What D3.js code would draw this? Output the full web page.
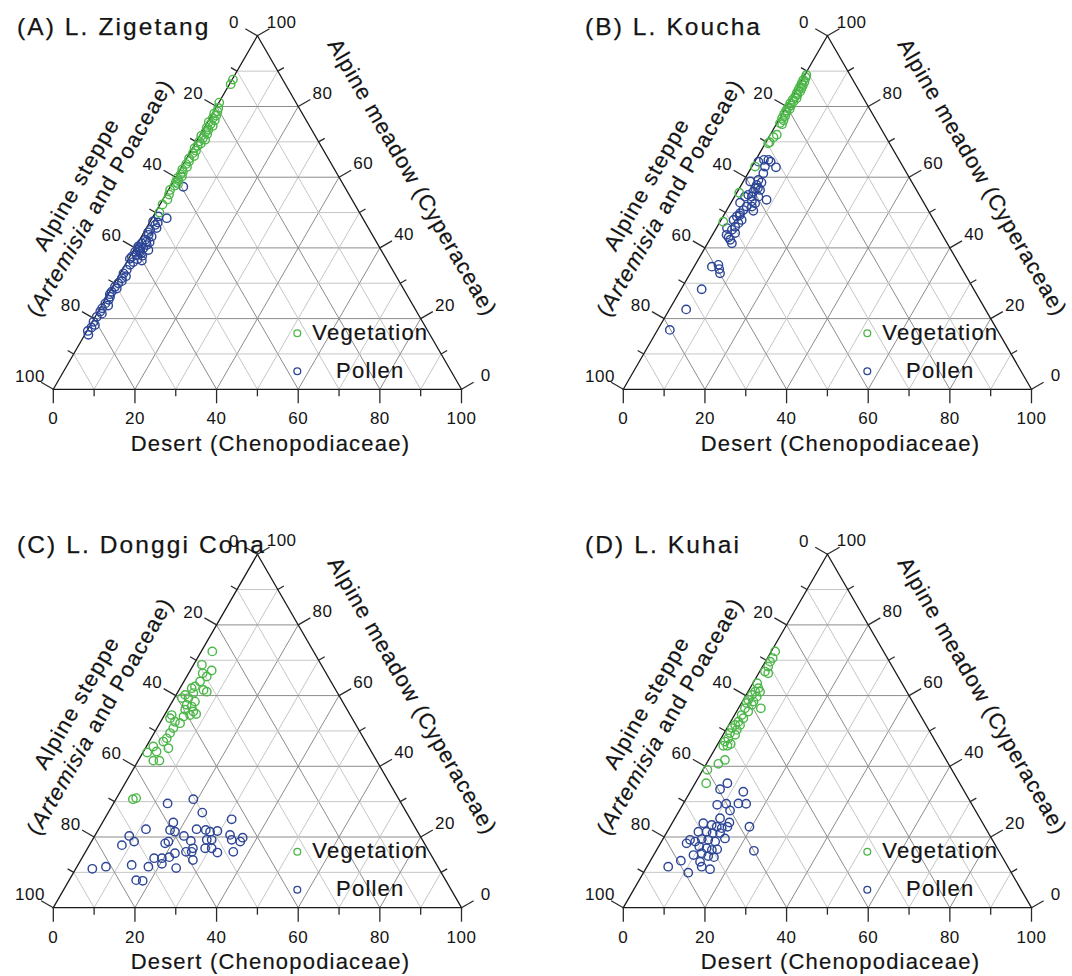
<!DOCTYPE html>
<html>
<head>
<meta charset="utf-8">
<script src="https://cdn.jsdelivr.net/npm/d3@7"></script>
<style>
  html, body { margin: 0; padding: 0; background: #fff; }
  svg { display: block; font-family: "Liberation Sans", Arial, Helvetica, sans-serif; }
</style>
</head>
<body>
<svg id="chart" width="1072" height="976"></svg>
<script>
// Each sample is [desert, meadow] in percent; alpine steppe = 100 - desert - meadow.

const zigetangVegetation = [
  [0.2,87.6],[0.3,86.3],[0.1,81.1],[0.6,79.6],[0.9,78.6],[0.4,78.0],[1.2,77.4],[0.7,76.7],
  [1.5,76.1],[0.3,75.6],[1.0,75.0],[1.8,74.5],[0.6,74.0],[1.3,73.4],[0.9,72.8],[1.6,72.2],
  [0.4,71.7],[1.1,71.1],[1.9,70.6],[0.7,70.1],[1.4,69.5],[0.9,68.9],[0.5,68.2],[1.2,67.5],
  [0.8,66.8],[1.5,66.0],[0.6,65.3],[1.0,64.5],[0.7,63.7],[1.3,62.9],[0.5,62.2],[1.0,61.5],
  [0.8,60.8],[1.4,60.2],[0.5,59.7],[1.1,59.1],[0.7,58.6],[1.5,58.1],[0.9,57.6],[0.4,56.4],
  [0.8,55.1],[1.1,53.7],[0.6,52.3],[1.0,50.0]
];
const zigetangPollen = [
  [3.2,57.3],[3.6,48.4],[1.3,48.9],[1.7,46.5],[2.5,45.6],[1.2,45.1],[1.5,43.7],[2.5,43.2],
  [1.4,42.3],[1.0,41.3],[2.5,40.8],[0.6,40.4],[2.1,39.9],[1.8,38.9],[0.6,38.9],[3.6,39.4],
  [1.4,38.0],[0.5,37.5],[3.5,36.4],[1.6,36.0],[1.2,35.2],[1.1,33.8],[0.8,32.8],[1.1,31.4],
  [0.9,30.0],[0.6,29.0],[1.3,28.5],[0.5,27.6],[0.8,26.2],[0.9,25.3],[0.6,24.3],[0.5,22.9],
  [0.5,22.0],[0.4,20.5],[0.3,19.1],[1.1,18.2],[0.9,15.4],[1.9,41.8],[0.9,40.0],[2.8,41.6],
  [1.6,39.3],[2.3,38.4],[1.1,39.6],[2.9,37.8],[0.3,36.9],[2.2,36.8],[0.7,47.5],[1.0,44.4],
  [2.0,47.2],[1.8,32.0],[1.5,30.6],[0.4,26.9],[1.6,23.7],[1.2,21.4],[0.6,17.5],[0.2,16.5]
];

const kouchaVegetation = [
  [0.4,88.9],[0.6,88.2],[0.35,87.5],[0.9,87.0],[0.4,86.6],[1.0,86.0],[0.5,85.6],[1.1,85.1],
  [0.55,84.7],[1.2,84.2],[0.6,83.8],[1.0,83.3],[0.7,82.8],[1.3,82.3],[0.55,81.9],[1.0,81.4],
  [0.45,80.9],[0.9,80.3],[0.5,79.8],[1.1,79.3],[0.45,78.9],[0.8,78.4],[0.45,77.9],[1.0,77.3],
  [0.55,76.7],[1.2,76.1],[0.75,75.3],[1.4,75.0],[1.6,72.0],[1.15,71.3],[0.7,69.6],[0.9,69.9],
  [0.8,63.0],[0.6,55.6],[0.8,47.4]
];
const kouchaPollen = [
  [0.9,64.4],[2.0,64.9],[3.1,64.9],[3.9,64.4],[6.0,62.8],[3.2,63.0],[3.75,61.1],[3.5,59.2],
  [3.8,57.8],[3.85,56.9],[3.9,55.9],[3.1,55.0],[2.55,54.5],[4.25,54.5],[5.85,54.5],[8.3,53.6],
  [5.3,56.4],[6.0,52.6],[5.65,51.7],[4.35,51.7],[4.05,50.7],[3.7,49.8],[3.35,48.9],[5.05,47.9],
  [3.05,47.9],[4.7,47.0],[4.4,46.0],[4.05,45.1],[5.3,44.2],[3.45,43.7],[5.05,42.3],[5.95,41.3],
  [4.35,34.7],[5.7,35.2],[6.5,34.0],[7.3,32.8],[5.05,28.3],[4.1,22.6],[3.0,16.8],[1.7,58.8],
  [4.6,58.5],[4.9,53.2],[2.2,52.8],[6.6,50.5],[2.6,45.6],[3.9,49.2],[4.5,57.0],[4.3,43.0]
];

const donggiConaVegetation = [
  [2.7,72.5],[2.05,68.7],[5.25,67.1],[3.45,66.3],[4.9,65.4],[3.95,64.0],[3.4,62.6],[2.85,62.1],
  [6.0,61.6],[7.05,61.1],[2.2,60.2],[1.85,59.3],[3.45,59.3],[3.95,60.7],[5.55,58.3],[4.0,57.4],
  [5.45,56.9],[4.3,56.0],[6.55,55.5],[7.6,54.8],[6.25,54.5],[4.85,54.1],[1.75,54.5],[1.8,53.6],
  [3.5,52.6],[4.95,52.2],[4.0,50.8],[3.9,49.4],[3.85,47.9],[3.45,47.0],[5.65,45.1],[1.7,45.6],
  [1.05,43.9],[3.2,44.2],[3.7,41.6],[5.2,41.6],[4.15,30.7],[4.8,31.0]
];
const donggiConaPollen = [
  [18.95,30.7],[13.25,29.5],[23.05,26.9],[17.35,24.1],[31.2,25.0],[11.6,22.2],[17.6,22.0],[19.05,21.5],
  [24.0,22.2],[26.35,22.0],[27.65,21.5],[29.35,21.7],[33.0,20.6],[36.5,19.8],[36.45,18.7],[8.45,20.3],
  [10.45,18.7],[7.95,17.7],[21.85,20.3],[24.25,18.9],[29.2,19.2],[18.85,18.7],[18.3,18.2],[28.8,16.8],
  [30.4,16.8],[24.6,15.8],[26.0,15.8],[32.4,15.6],[36.2,15.8],[22.1,15.4],[21.25,14.3],[19.6,14.0],
  [17.7,14.0],[27.45,13.5],[17.5,11.6],[20.4,12.4],[13.15,12.1],[24.5,11.2],[7.1,11.6],[4.06,11.0],
  [16.4,7.8],[18.1,7.6],[34.1,19.2],[25.8,16.8],[28.0,19.2]
];

const kuhaiVegetation = [
  [0.95,72.5],[1.3,70.6],[1.15,69.6],[1.4,68.2],[1.3,66.8],[2.35,66.3],[1.05,63.5],[2.05,62.1],
  [1.75,61.1],[2.95,61.1],[1.4,60.2],[2.85,59.7],[1.2,58.8],[2.75,58.3],[1.25,57.9],[2.8,57.4],
  [5.5,56.4],[1.6,56.4],[2.85,55.5],[1.75,54.5],[2.6,53.6],[1.9,52.6],[1.55,51.7],[2.75,51.7],
  [1.2,50.8],[2.65,50.3],[1.45,49.4],[2.95,48.9],[1.75,47.9],[1.4,47.0],[1.6,45.8],[2.6,45.8],
  [3.15,46.3],[4.0,41.8],[2.95,40.7],[1.1,39.0],[2.7,35.2]
];
const kuhaiPollen = [
  [7.9,35.2],[6.95,33.5],[13.0,32.8],[8.45,29.1],[10.5,29.4],[13.45,29.5],[15.4,29.4],[12.4,27.5],
  [11.05,25.3],[7.65,23.9],[9.95,23.4],[11.45,22.9],[12.85,22.5],[14.05,22.9],[13.95,24.1],[19.45,22.9],
  [7.65,21.5],[9.65,21.5],[11.35,21.1],[13.15,21.1],[15.1,19.6],[6.75,19.2],[8.25,18.7],[9.5,19.4],
  [11.2,19.2],[13.15,18.7],[6.4,18.2],[9.95,17.3],[12.0,16.8],[13.55,16.3],[14.75,16.5],[23.95,16.1],
  [9.75,14.9],[11.5,15.4],[13.5,14.6],[15.05,14.3],[12.3,13.0],[13.4,11.6],[7.45,13.3],[5.2,11.6],
  [10.95,9.9],[15.8,10.9]
];

const panelTitles = ["(A) L. Zigetang", "(B) L. Koucha", "(C) L. Donggi Cona", "(D) L. Kuhai"];
const seriesNames = ["Vegetation", "Pollen"];
const tickValues = d3.range(0, 101, 10);
const labelValues = [0, 20, 40, 60, 80, 100];
const axisTitles = {
  desert: "Desert (Chenopodiaceae)",
  steppeLine1: "Alpine steppe",
  steppeLine2: ["(", "Artemisia", " and Poaceae)"],
  meadow: "Alpine meadow (Cyperaceae)"
};

const panelData = [
  [zigetangVegetation, zigetangPollen],
  [kouchaVegetation, kouchaPollen],
  [donggiConaVegetation, donggiConaPollen],
  [kuhaiVegetation, kuhaiPollen]
];

// ---- layout and style ----
const colors = { Vegetation: "#4cb748", Pollen: "#2c4596" };
const origins = [[53.3, 389.3], [623.3, 389.3], [53.3, 907.7], [623.3, 907.7]];
const titlePos = [[17, 35], [585, 35], [17, 553], [585, 553]];
const side = 408.2;
const tri = side * Math.sqrt(3) / 2;

// horizontal scale runs along the base, vertical scale follows the meadow share
const x = d3.scaleLinear().domain([0, 100]).range([0, side]);
const y = d3.scaleLinear().domain([0, 100]).range([0, -tri]);
const pos = (desert, meadow) => [x(desert + meadow / 2), y(meadow)];

const c30 = Math.cos(Math.PI / 6), s30 = Math.sin(Math.PI / 6);
const outLeft = [-c30, -s30], outRight = [c30, -s30], outBottom = [0, 1];

const svg = d3.select("#chart");
const line = d3.line();

panelData.forEach((series, i) => {
  const [ox, oy] = origins[i];
  const g = svg.append("g").attr("transform", `translate(${ox},${oy})`);

  // title
  svg.append("text")
    .attr("x", titlePos[i][0]).attr("y", titlePos[i][1])
    .attr("font-size", 24.5).attr("letter-spacing", 2.1).attr("fill", "#141414")
    .attr("stroke", "#141414").attr("stroke-width", 0.25)
    .text(panelTitles[i]);

  // grid: constant desert, constant meadow, constant steppe
  const grid = g.append("g").attr("fill", "none");
  d3.range(10, 100, 10).forEach(v => {
    const major = v % 20 === 0;
    const stroke = major ? "#8c8c8c" : "#c6c6c6";
    const segs = [
      [pos(v, 0), pos(v, 100 - v)],
      [pos(0, v), pos(100 - v, v)],
      [pos(100 - v, 0), pos(0, 100 - v)]
    ];
    segs.forEach(s => grid.append("path").attr("d", line(s))
      .attr("stroke", stroke).attr("stroke-width", 1));
  });

  // triangle frame
  g.append("path")
    .attr("d", line([pos(0, 0), pos(100, 0), pos(0, 100)]) + "Z")
    .attr("fill", "none").attr("stroke", "#1a1a1a").attr("stroke-width", 1.3);

  // ticks on the three sides
  const ticks = g.append("g").attr("stroke", "#2a2a2a").attr("stroke-width", 1.3);
  tickValues.forEach(v => {
    const len = v % 20 === 0 ? 14 : 7;
    const b = pos(v, 0);                 // desert share along the base
    const l = pos(0, 100 - v);           // steppe share along the left side
    const r = pos(100 - v, v);           // meadow share along the right side
    [[b, outBottom], [l, outLeft], [r, outRight]].forEach(([p, o]) => {
      ticks.append("line")
        .attr("x1", p[0]).attr("y1", p[1])
        .attr("x2", p[0] + o[0] * len).attr("y2", p[1] + o[1] * len);
    });
  });

  // tick labels
  const lab = g.append("g").attr("font-size", 17).attr("letter-spacing", 0.5)
    .attr("fill", "#141414").attr("text-anchor", "middle");
  labelValues.forEach(v => {
    const b = pos(v, 0);
    lab.append("text").attr("x", b[0]).attr("y", b[1] + 35).text(v);
    const l = pos(0, 100 - v);
    lab.append("text").attr("x", l[0] + outLeft[0] * 27).attr("y", l[1] + outLeft[1] * 27)
      .attr("dy", "0.36em").text(v);
    const r = pos(100 - v, v);
    lab.append("text").attr("x", r[0] + outRight[0] * 28).attr("y", r[1] + outRight[1] * 28)
      .attr("dy", "0.36em").text(v);
  });

  // axis titles
  const titles = g.append("g").attr("font-size", 22).attr("letter-spacing", 1.2)
    .attr("fill", "#141414").attr("stroke", "#141414").attr("stroke-width", 0.2)
    .attr("text-anchor", "middle");
  titles.append("text")
    .attr("x", x(50) + 13).attr("y", 61.5)
    .text(axisTitles.desert);

  // left side: midpoint, then offset outward and along the side
  const lm = pos(0, 50);
  const alongL = [0.5, -c30];
  const lx = lm[0] + outLeft[0] * 48 - alongL[0] * 15;
  const ly = lm[1] + outLeft[1] * 48 - alongL[1] * 15;
  const lt = titles.append("text").attr("transform", `translate(${lx},${ly}) rotate(-60)`);
  lt.append("tspan").attr("x", 0).attr("y", -27).text(axisTitles.steppeLine1);
  const l2 = lt.append("tspan").attr("x", 0).attr("y", 0);
  axisTitles.steppeLine2.forEach((t, k) => {
    l2.append("tspan").attr("font-style", k === 1 ? "italic" : "normal").text(t);
  });

  const rm = pos(50, 50);
  const alongR = [0.5, c30];
  const rx = rm[0] + outRight[0] * 56 - alongR[0] * 4;
  const ry = rm[1] + outRight[1] * 56 - alongR[1] * 4;
  titles.append("text").attr("transform", `translate(${rx},${ry}) rotate(60)`)
    .attr("letter-spacing", 1.0)
    .text(axisTitles.meadow);

  // samples: pollen first, vegetation on top
  const [veg, pollen] = series;
  [["Pollen", pollen], ["Vegetation", veg]].forEach(([name, pts]) => {
    g.append("g").selectAll("circle").data(pts).join("circle")
      .attr("cx", d => pos(d[0], d[1])[0])
      .attr("cy", d => pos(d[0], d[1])[1])
      .attr("r", 4.2)
      .attr("fill", "none")
      .attr("stroke", colors[name])
      .attr("stroke-width", 1.4);
  });

  // legend
  const leg = g.append("g");
  seriesNames.forEach((name, k) => {
    const cy = k === 0 ? -56 : -18;
    leg.append("circle").attr("cx", 244).attr("cy", cy).attr("r", 3.4)
      .attr("fill", "none").attr("stroke", colors[name]).attr("stroke-width", 1.3);
    leg.append("text").attr("x", 317).attr("y", cy + 6.5)
      .attr("text-anchor", "middle").attr("font-size", 22).attr("letter-spacing", 1.2)
      .attr("fill", "#141414").attr("stroke", "#141414").attr("stroke-width", 0.2)
      .text(name);
  });
});
</script>
</body>
</html>
